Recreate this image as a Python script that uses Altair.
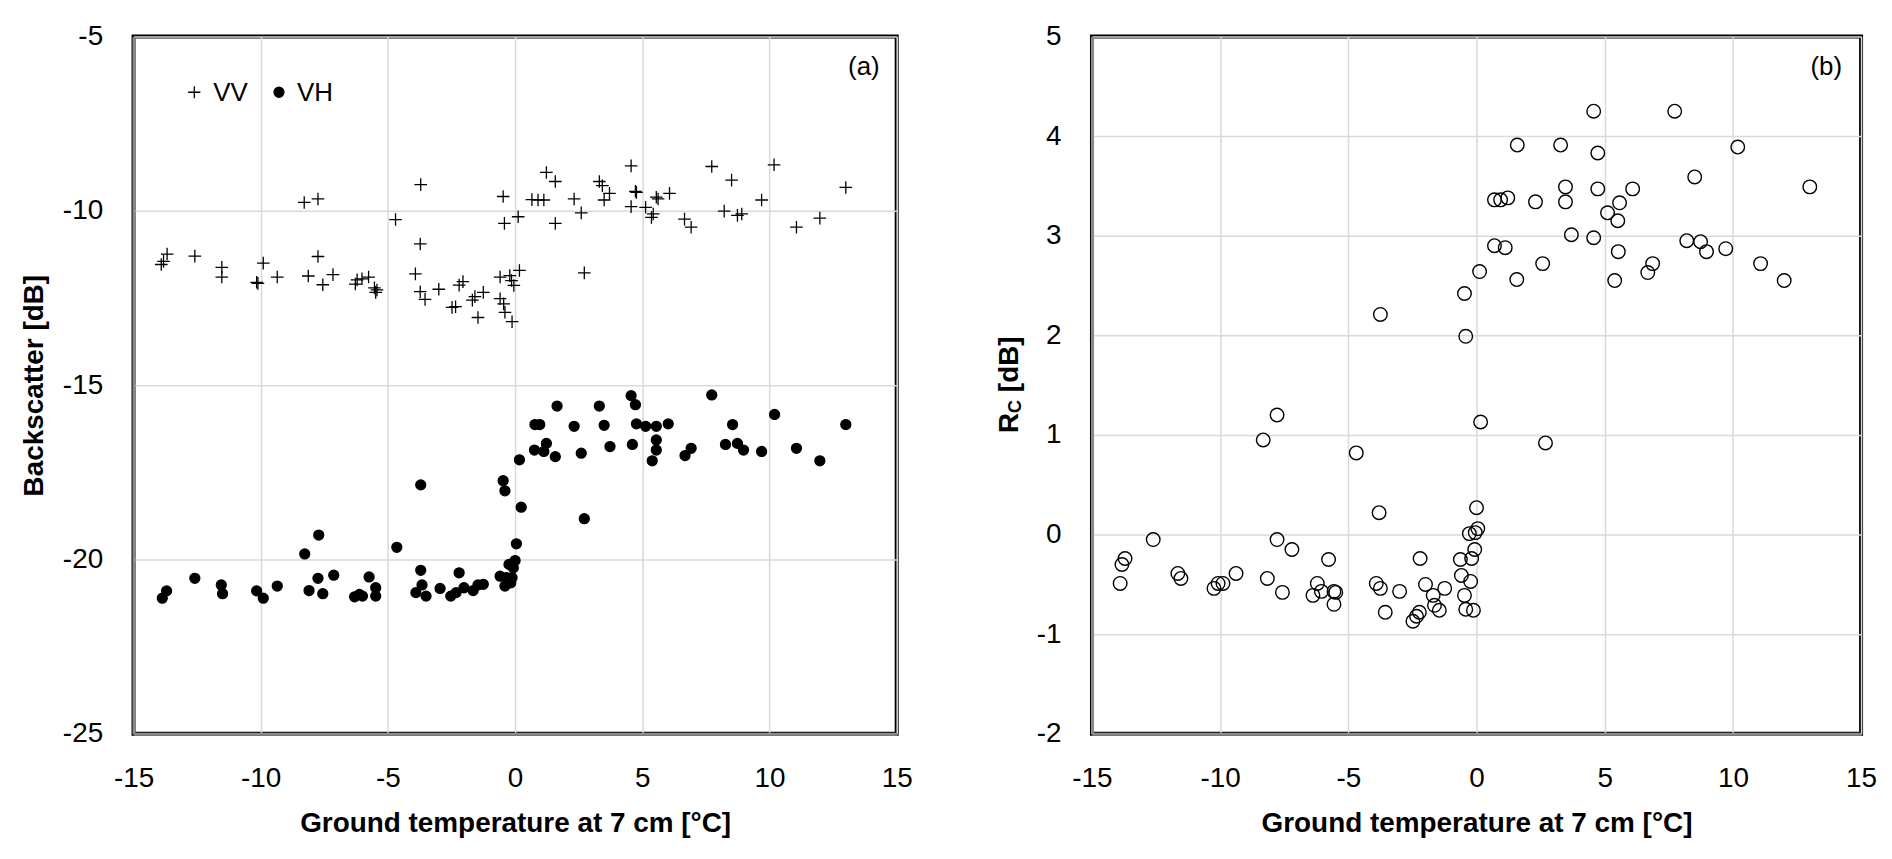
import altair as alt
import pandas as pd

# ---------------- data ----------------
# Panel (a): VV backscatter vs ground temperature
x_vv = [-13.91, -13.82, -13.68, -12.59, -11.53, -11.53, -10.16, -10.11, -9.90, -9.35,
        -8.29, -7.75, -7.75, -8.13, -7.56, -7.16, -6.28, -6.21, -6.02, -5.76,
        -5.53, -5.48, -5.43, -4.70, -3.71, -3.73, -3.92, -3.73, -3.54, -3.00,
        -2.48, -2.34, -2.20, -2.05, -1.68, -1.58, -1.46, -1.25, -0.59, -0.59,
        -0.45, -0.40, -0.21, -0.14, -0.12, -0.05, 0.17, -0.47, -0.42, 0.12,
        0.66, 0.90, 1.13, 1.23, 1.58, 1.58, 2.32, 2.60, 2.72, 3.31,
        3.43, 3.50, 3.71, 4.56, 4.56, 4.73, 4.77, 5.13, 5.36, 5.43,
        5.55, 5.62, 6.07, 6.66, 6.92, 7.73, 8.22, 8.51, 8.74, 8.91,
        9.69, 10.18, 11.06, 11.98, 13.00]
y_vv = [-11.54, -11.45, -11.24, -11.30, -11.62, -11.90, -12.05, -12.08, -11.50, -11.90,
        -9.76, -9.66, -11.31, -11.87, -12.12, -11.83, -12.10, -11.98, -11.95, -11.90,
        -12.21, -12.34, -12.27, -10.25, -9.25, -10.95, -11.81, -12.32, -12.54, -12.25,
        -12.77, -12.75, -12.13, -12.03, -12.56, -12.46, -13.06, -12.34, -11.90, -12.52,
        -12.67, -12.91, -11.86, -12.00, -13.18, -12.14, -11.71, -9.59, -10.36, -10.17,
        -9.68, -9.69, -9.69, -8.90, -9.16, -10.36, -9.66, -10.06, -11.78, -9.16,
        -9.28, -9.69, -9.50, -8.71, -9.88, -9.44, -9.47, -9.90, -10.19, -10.09,
        -9.61, -9.66, -9.50, -10.24, -10.47, -8.73, -10.01, -9.12, -10.13, -10.09,
        -9.69, -8.68, -10.47, -10.21, -9.33]

# Panel (a): VH backscatter vs ground temperature
x_vh = [4.56, 4.73, 1.65, 3.31, 7.73, 10.20, 0.78, 0.97, 2.32, 3.50,
        4.77, 5.13, 5.55, 6.02, 8.55, 13.00, 0.76, 1.23, 1.13, 1.58,
        2.60, 3.73, 4.61, 5.55, 5.55, 5.39, 6.68, 6.92, 8.27, 8.74,
        8.98, 9.69, 11.06, 11.98, 0.17, -3.71, -0.47, -0.40, 0.24, 2.72,
        -7.72, -4.65, -8.27, 0.05, 0.00, -0.24, -0.07, -0.59, -0.35, -0.12,
        -0.40, -0.17, -3.71, -2.20, -12.59, -7.75, -7.13, -5.74, -11.55, -11.50,
        -13.87, -13.70, -10.16, -9.90, -9.35, -8.10, -7.56, -6.31, -6.12, -6.00,
        -5.48, -5.48, -3.90, -3.66, -3.50, -2.95, -2.53, -2.32, -2.01, -1.65,
        -1.46, -1.25]
y_vh = [-15.30, -15.56, -15.60, -15.60, -15.28, -15.84, -16.13, -16.13, -16.18, -16.15,
        -16.11, -16.18, -16.18, -16.11, -16.13, -16.13, -16.86, -16.67, -16.90, -17.05,
        -16.95, -16.76, -16.70, -16.57, -16.86, -17.17, -17.02, -16.81, -16.70, -16.67,
        -16.86, -16.90, -16.81, -17.17, -17.14, -17.86, -17.74, -18.03, -18.50, -18.83,
        -19.30, -19.65, -19.84, -19.55, -20.03, -20.14, -20.24, -20.48, -20.52, -20.52,
        -20.76, -20.67, -20.31, -20.38, -20.54, -20.54, -20.45, -20.50, -20.73, -20.98,
        -21.11, -20.90, -20.90, -21.11, -20.76, -20.89, -20.98, -21.07, -21.00, -21.05,
        -20.81, -21.05, -20.95, -20.73, -21.05, -20.83, -21.05, -20.95, -20.81, -20.89,
        -20.73, -20.71]

# Panel (b): R_C vs ground temperature
x_rc = [4.57, 7.73, 1.59, 3.28, 4.73, 10.19, 8.51, 13.00, 3.47, 4.73,
        6.09, 0.70, 0.94, 1.22, 2.30, 3.47, 5.58, 5.11, 5.51, 3.70,
        4.57, 0.70, 1.12, 8.20, 8.74, 8.97, 9.72, 5.53, 2.58, 6.87,
        6.68, 11.08, 12.00, 5.39, 1.57, 0.12, -0.47, -3.75, -0.42, -7.78,
        0.16, -8.32, -4.69, 2.69, -3.80, 0.00, 0.05, -0.28, -0.05, -12.61,
        -7.78, -7.20, -13.71, -13.83, -5.77, -2.20, -0.63, -0.19, -0.07, -13.90,
        -11.65, -11.53, -10.24, -10.08, -9.89, -9.38, -8.16, -7.57, -6.38, -6.21,
        -6.05, -5.56, -5.49, -5.56, -3.91, -3.75, -3.56, -3.00, -1.99, -1.69,
        -1.64, -1.45, -1.24, -2.23, -2.34, -2.48, -0.59, -0.47, -0.23, -0.42,
        -0.12]
y_rc = [4.25, 4.25, 3.91, 3.91, 3.83, 3.89, 3.59, 3.49, 3.49, 3.47,
        3.47, 3.36, 3.36, 3.38, 3.34, 3.34, 3.33, 3.23, 3.15, 3.01,
        2.98, 2.90, 2.88, 2.95, 2.94, 2.84, 2.87, 2.84, 2.72, 2.72,
        2.63, 2.72, 2.55, 2.55, 2.56, 2.64, 2.42, 2.21, 1.99, 1.20,
        1.13, 0.95, 0.82, 0.92, 0.22, 0.27, 0.06, 0.01, 0.02, -0.05,
        -0.05, -0.15, -0.24, -0.30, -0.25, -0.24, -0.25, -0.24, -0.15, -0.49,
        -0.39, -0.44, -0.54, -0.49, -0.49, -0.39, -0.44, -0.58, -0.61, -0.49,
        -0.57, -0.57, -0.58, -0.70, -0.49, -0.54, -0.78, -0.57, -0.50, -0.61,
        -0.71, -0.76, -0.54, -0.78, -0.82, -0.87, -0.41, -0.61, -0.47, -0.75,
        -0.76]

x_ticks = [-15, -10, -5, 0, 5, 10, 15]
bs_ticks = [-25, -20, -15, -10, -5]
rc_ticks = [-2, -1, 0, 1, 2, 3, 4, 5]
pols = ["VV", "VH"]
x_title = "Ground temperature at 7 cm [°C]"

# ---------------- chart ----------------
FONT = "Liberation Sans, Arial, sans-serif"
W1, W2, H = 766, 772, 700
CROSS = "M-1,0H1M0,-1V1"
LABEL_EXPR = "toString(datum.value)"   # plain hyphen minus, as in the original

df_a = pd.DataFrame({
    "t": x_vv + x_vh,
    "bs": y_vv + y_vh,
    "pol": ["VV"] * len(x_vv) + ["VH"] * len(x_vh),
})
df_b = pd.DataFrame({"t": x_rc, "rc": y_rc})


def x_enc(width):
    return alt.X(
        "t:Q",
        scale=alt.Scale(domain=[-15, 15], nice=False, zero=False),
        axis=alt.Axis(values=x_ticks, title=x_title, titleX=width / 2, titleY=90,
                      titleAlign="center", titleBaseline="middle",
                      labelExpr=LABEL_EXPR),
    )


pts_a = alt.Chart(df_a).mark_point(
    filled=True, stroke="black", strokeWidth=1.3, opacity=1
).encode(
    x=x_enc(W1),
    y=alt.Y("bs:Q", scale=alt.Scale(domain=[-25, -5], nice=False, zero=False),
            axis=alt.Axis(values=bs_ticks, title="Backscatter [dB]", titleX=-99,
                          titleY=H / 2, titleAlign="center", titleBaseline="middle",
                          titleAngle=270, labelExpr=LABEL_EXPR)),
    shape=alt.Shape("pol:N", scale=alt.Scale(domain=pols, range=[CROSS, "circle"]),
                    legend=None),
    fill=alt.Fill("pol:N", scale=alt.Scale(domain=pols, range=["transparent", "black"]),
                  legend=None),
    size=alt.Size("pol:N", scale=alt.Scale(domain=pols, range=[160, 100]), legend=None),
)

# hand-drawn legend ("+ VV  ● VH") in the top-left corner of panel (a)
leg_vv_sym = alt.Chart(pd.DataFrame({"pol": ["VV"]})).mark_point(
    shape=CROSS, filled=False, stroke="black", strokeWidth=1.3, size=150, opacity=1
).encode(x=alt.value(61), y=alt.value(56))
leg_vh_sym = alt.Chart(pd.DataFrame({"pol": ["VH"]})).mark_point(
    shape="circle", filled=True, fill="black", stroke="black", strokeWidth=1.3,
    size=100, opacity=1
).encode(x=alt.value(146), y=alt.value(56))
leg_vv_txt = alt.Chart(pd.DataFrame({"pol": ["VV"]})).mark_text(
    align="left", baseline="middle", font=FONT, fontSize=26, color="black"
).encode(x=alt.value(80), y=alt.value(57), text="pol:N")
leg_vh_txt = alt.Chart(pd.DataFrame({"pol": ["VH"]})).mark_text(
    align="left", baseline="middle", font=FONT, fontSize=26, color="black"
).encode(x=alt.value(164), y=alt.value(57), text="pol:N")

lab_a = alt.Chart(pd.DataFrame({"lab": ["(a)"]})).mark_text(
    align="right", baseline="middle", font=FONT, fontSize=26, color="black"
).encode(x=alt.value(W1 - 17), y=alt.value(31), text="lab:N")

panel_a = alt.layer(pts_a, leg_vv_sym, leg_vh_sym, leg_vv_txt, leg_vh_txt, lab_a).properties(
    width=W1, height=H)

pts_b = alt.Chart(df_b).mark_point(
    shape="circle", filled=False, stroke="black", strokeWidth=1.4, size=185, opacity=1
).encode(
    x=x_enc(W2),
    y=alt.Y("rc:Q", scale=alt.Scale(domain=[-2, 5], nice=False, zero=False),
            axis=alt.Axis(values=rc_ticks, title=None, labelExpr=LABEL_EXPR)),
)

lab_b = alt.Chart(pd.DataFrame({"lab": ["(b)"]})).mark_text(
    align="right", baseline="middle", font=FONT, fontSize=26, color="black"
).encode(x=alt.value(W2 - 19), y=alt.value(31), text="lab:N")

# y-axis title of panel (b): R with subscript C, then [dB]
t_r = alt.Chart(pd.DataFrame({"s": ["R"]})).mark_text(
    align="left", baseline="middle", angle=270, font=FONT, fontSize=28,
    fontWeight="bold", color="black", dx=-48
).encode(x=alt.value(-82), y=alt.value(H / 2), text="s:N")
t_c = alt.Chart(pd.DataFrame({"s": ["C"]})).mark_text(
    align="left", baseline="middle", angle=270, font=FONT, fontSize=18,
    fontWeight="bold", color="black", dx=-28, dy=6
).encode(x=alt.value(-82), y=alt.value(H / 2), text="s:N")
t_db = alt.Chart(pd.DataFrame({"s": ["[dB]"]})).mark_text(
    align="left", baseline="middle", angle=270, font=FONT, fontSize=28,
    fontWeight="bold", color="black", dx=-7
).encode(x=alt.value(-82), y=alt.value(H / 2), text="s:N")

panel_b = alt.layer(pts_b, lab_b, t_r, t_c, t_db).properties(width=W2, height=H)

chart = alt.hconcat(panel_a, panel_b, spacing=80).properties(
    padding={"left": 11, "top": 11, "right": 5, "bottom": 5},
    background="white",
).configure_view(
    stroke="black", strokeWidth=4
).configure_axis(
    labelFont=FONT, labelFontSize=28, labelColor="black", labelPadding=31,
    labelFlush=False, labelOverlap=False,
    ticks=False, grid=True, gridColor="#d9d9d9", gridWidth=1.5,
    domainColor="#8a8a8a", domainWidth=3,
    titleFont=FONT, titleFontSize=28, titleFontWeight="bold", titleColor="black",
)

chart.save("out.html", embed_options={"renderer": "svg", "actions": False})
